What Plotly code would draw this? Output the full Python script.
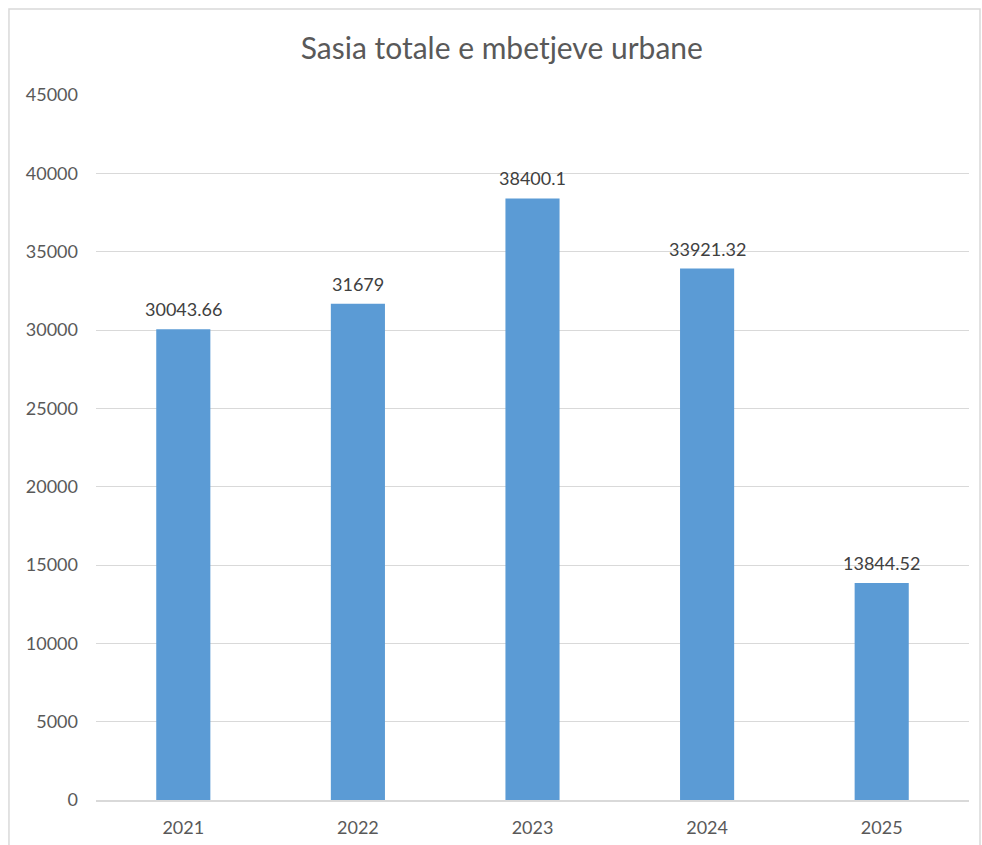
import plotly.graph_objects as go

years = ["2021", "2022", "2023", "2024", "2025"]
values = [30043.66, 31679, 38400.1, 33921.32, 13844.52]
labels = ["30043.66", "31679", "38400.1", "33921.32", "13844.52"]
y_ticks = [0, 5000, 10000, 15000, 20000, 25000, 30000, 35000, 40000, 45000]

FONT = "Lato, 'Open Sans', sans-serif"

fig = go.Figure()
fig.add_trace(go.Bar(
    x=years, y=values,
    marker=dict(color="#5B9BD5", line=dict(width=0)),
    hoverinfo="x+y",
))

for i, (v, lab) in enumerate(zip(values, labels)):
    fig.add_annotation(
        x=i, y=v, xref="x", yref="y", text=lab, showarrow=False,
        yanchor="bottom", yshift=7,
        font=dict(family=FONT, size=18, color="#404040"),
    )

fig.update_layout(
    width=982, height=845,
    margin=dict(l=96, r=13, t=95, b=45),
    paper_bgcolor="white", plot_bgcolor="white",
    bargap=0.69,
    showlegend=False,
    title=dict(
        text="Sasia totale e mbetjeve urbane",
        x=0.511, xanchor="center", y=0.943, yanchor="middle",
        font=dict(family=FONT, size=30, color="#595959"),
    ),
    xaxis=dict(
        type="category", range=[-0.5, len(years) - 0.5],
        automargin=False,
        showgrid=False, showline=True, linecolor="#D9D9D9", linewidth=1.5,
        ticks="", ticklabelstandoff=11,
        tickfont=dict(family=FONT, size=18, color="#595959"),
    ),
    yaxis=dict(
        range=[0, 45000], tickvals=y_ticks,
        ticktext=[str(t) for t in y_ticks],
        automargin=False,
        showgrid=True, gridcolor="#D9D9D9", gridwidth=1,
        zeroline=False, showline=False, ticks="",
        ticklabelstandoff=17,
        tickfont=dict(family=FONT, size=18, color="#595959"),
    ),
    shapes=[dict(
        type="rect", xref="paper", yref="paper",
        x0=-0.0997, x1=1.0126, y0=-0.2, y1=1.122,
        line=dict(color="#D9D9D9", width=1.5), fillcolor="rgba(0,0,0,0)",
        layer="below",
    )],
)

fig.write_html("out.html", config={"displayModeBar": False},
               post_script="document.body.style.margin='0';")
